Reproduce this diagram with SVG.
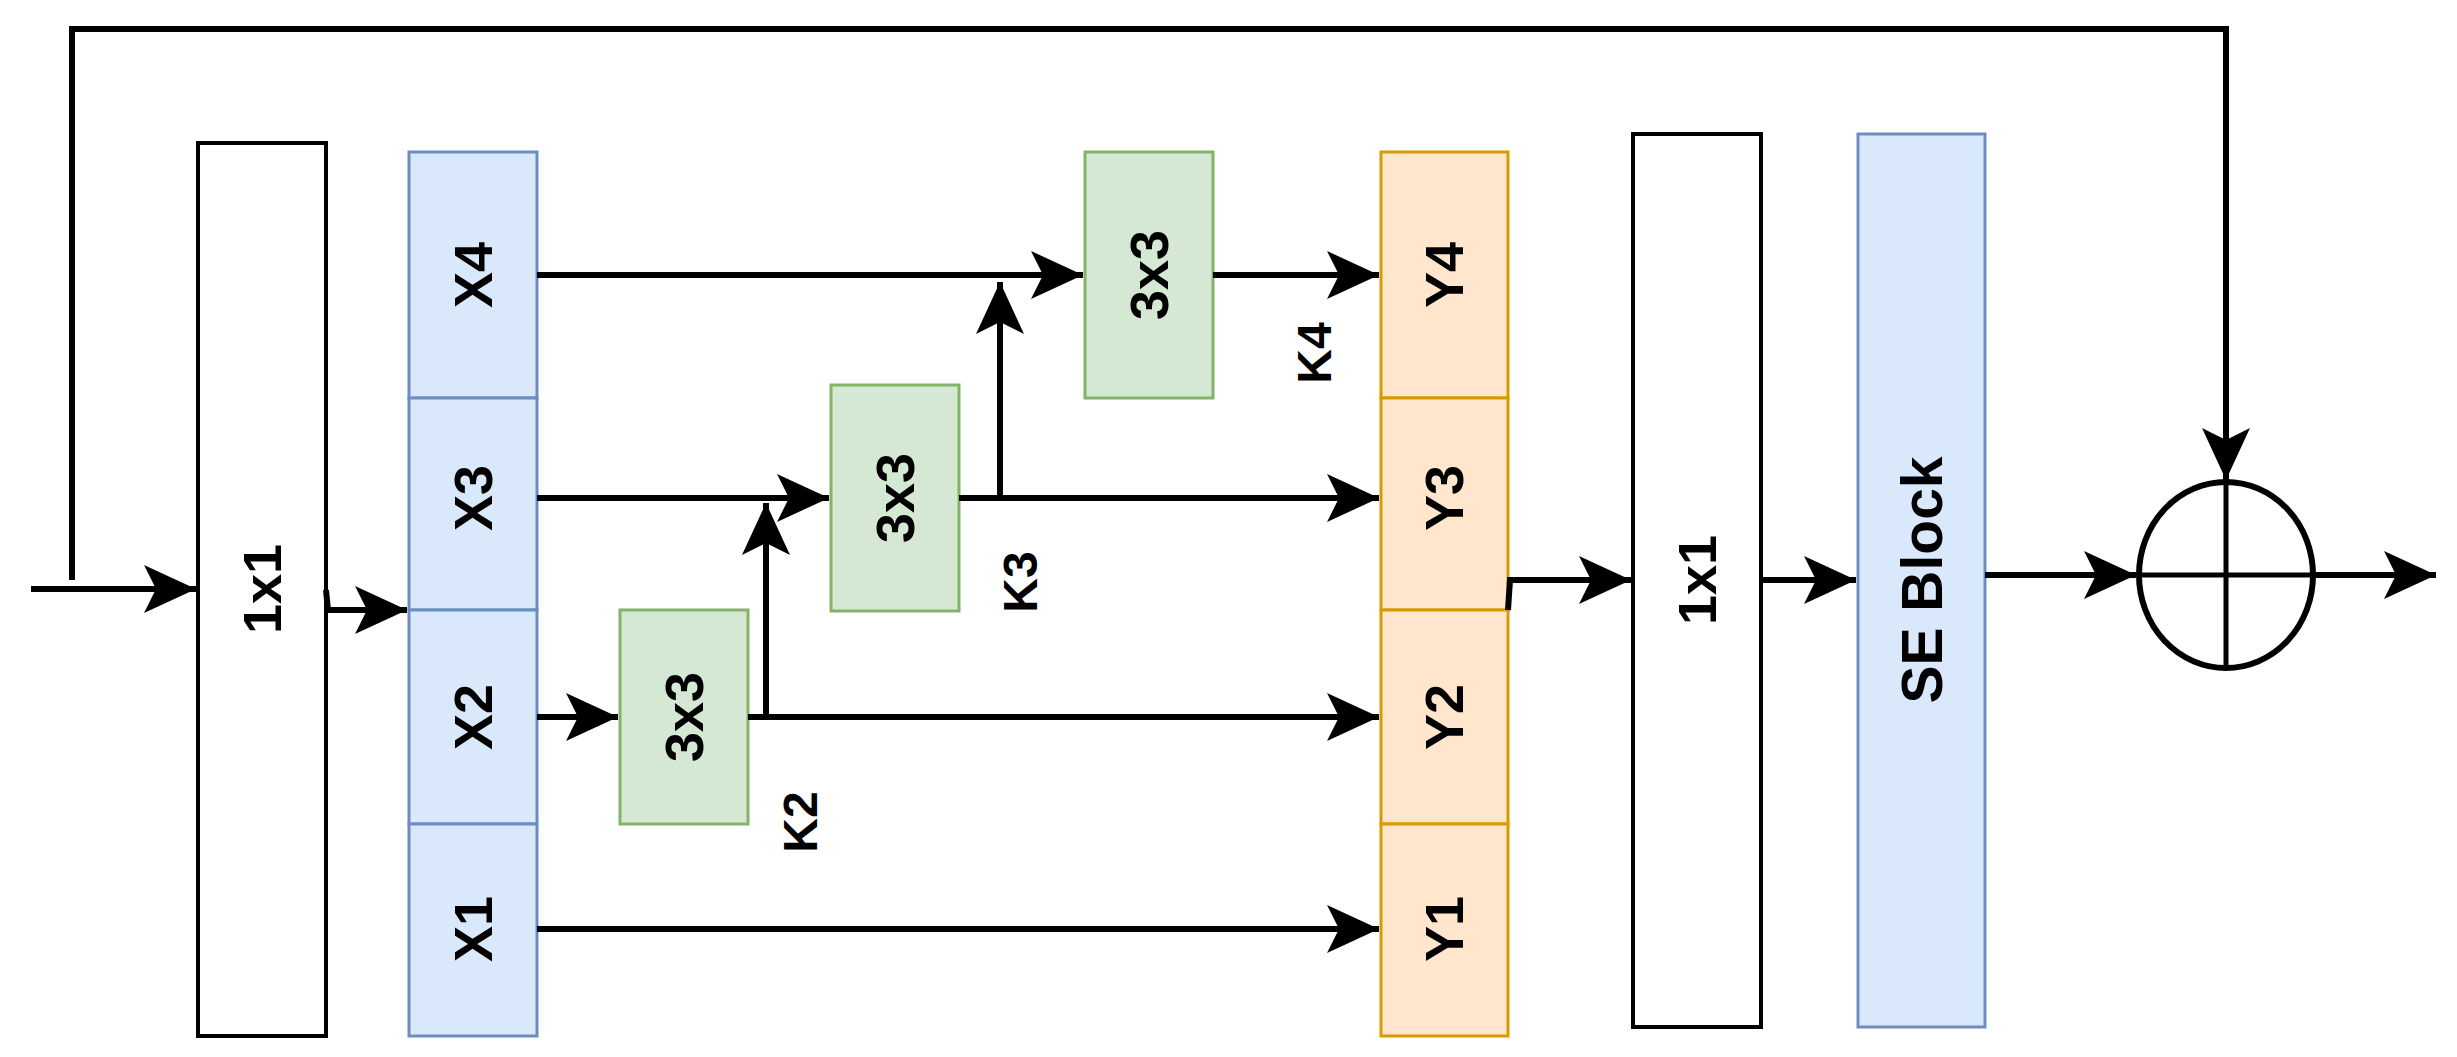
<svg xmlns="http://www.w3.org/2000/svg" width="2457" height="1057" viewBox="0 0 2457 1057">
<style>
text{font-family:"Liberation Sans",Arial,sans-serif;font-weight:bold;font-size:54px;fill:#000;text-anchor:middle;dominant-baseline:central}
.k{font-size:48px}
.se{font-size:57px}
.w{fill:#fff;stroke:#000;stroke-width:4}
.b{fill:#dae8fc;stroke:#6c8ebf;stroke-width:3}
.g{fill:#d5e8d4;stroke:#82b366;stroke-width:3}
.o{fill:#ffe6cc;stroke:#d79b00;stroke-width:3}
.c path,.c polyline{fill:none;stroke:#000;stroke-width:6}
</style>
<defs>
<marker id="a" markerUnits="userSpaceOnUse" markerWidth="56" markerHeight="50" refX="52" refY="24" orient="auto" viewBox="0 0 56 50">
<path d="M0,0 L52,24 L0,48 L12,24 z" fill="#000"/>
</marker>
</defs>
<g id="conv1">
<rect class="w" x="198" y="143" width="128" height="893"/>
<text transform="rotate(-90 262 589)" x="262" y="589">1x1</text>
</g>
<g id="X">
<rect class="b" x="409" y="152" width="128" height="246"/><text transform="rotate(-90 473 275)" x="473" y="275">X4</text>
<rect class="b" x="409" y="398" width="128" height="212"/><text transform="rotate(-90 473 498)" x="473" y="498">X3</text>
<rect class="b" x="409" y="610" width="128" height="214"/><text transform="rotate(-90 473 717)" x="473" y="717">X2</text>
<rect class="b" x="409" y="824" width="128" height="212"/><text transform="rotate(-90 473 929)" x="473" y="929">X1</text>
</g>
<g id="K2"><rect class="g" x="620" y="610" width="128" height="214"/><text transform="rotate(-90 684 717)" x="684" y="717">3x3</text></g>
<g id="K3"><rect class="g" x="831" y="385" width="128" height="226"/><text transform="rotate(-90 895 498)" x="895" y="498">3x3</text></g>
<g id="K4"><rect class="g" x="1085" y="152" width="128" height="246"/><text transform="rotate(-90 1149 275)" x="1149" y="275">3x3</text></g>
<g id="Y">
<rect class="o" x="1381" y="152" width="127" height="246"/><text transform="rotate(-90 1444 275)" x="1444" y="275">Y4</text>
<rect class="o" x="1381" y="398" width="127" height="212"/><text transform="rotate(-90 1444 498)" x="1444" y="498">Y3</text>
<rect class="o" x="1381" y="610" width="127" height="214"/><text transform="rotate(-90 1444 717)" x="1444" y="717">Y2</text>
<rect class="o" x="1381" y="824" width="127" height="212"/><text transform="rotate(-90 1444 929)" x="1444" y="929">Y1</text>
</g>
<g id="conv2"><rect class="w" x="1633" y="134" width="128" height="893"/><text transform="rotate(-90 1697 580)" x="1697" y="580">1x1</text></g>
<g id="se"><rect class="b" x="1858" y="134" width="127" height="893"/><text class="se" transform="rotate(-90 1922 580)" x="1922" y="580">SE Block</text></g>
<g id="sum"><ellipse cx="2226" cy="575" rx="87" ry="93" fill="#fff" stroke="#000" stroke-width="6"/><path d="M2139,575H2313M2226,482V668" stroke="#000" stroke-width="5"/></g>
<g id="labels">
<text class="k" transform="rotate(-90 800 822)" x="800" y="822">K2</text>
<text class="k" transform="rotate(-90 1020 582)" x="1020" y="582">K3</text>
<text class="k" transform="rotate(-90 1314 353)" x="1314" y="353">K4</text>
</g>
<g class="c" id="connectors">
<path d="M31,589H196" marker-end="url(#a)"/>
<polyline points="72,580 72,29 2226,29 2226,480" marker-end="url(#a)"/>
<polyline points="326,590 328,610 407,610" marker-end="url(#a)"/>
<path d="M537,275H1083" marker-end="url(#a)"/>
<path d="M537,498H829" marker-end="url(#a)"/>
<path d="M537,717H618" marker-end="url(#a)"/>
<path d="M537,929H1379" marker-end="url(#a)"/>
<path d="M748,717H1379" marker-end="url(#a)"/>
<path d="M766,717V503" marker-end="url(#a)"/>
<path d="M959,498H1379" marker-end="url(#a)"/>
<path d="M1000,498V282" marker-end="url(#a)"/>
<path d="M1213,275H1379" marker-end="url(#a)"/>
<polyline points="1508,610 1510,580 1631,580" marker-end="url(#a)"/>
<path d="M1761,580H1856" marker-end="url(#a)"/>
<path d="M1985,575H2136" marker-end="url(#a)"/>
<path d="M2313,575H2436" marker-end="url(#a)"/>
</g>
</svg>
